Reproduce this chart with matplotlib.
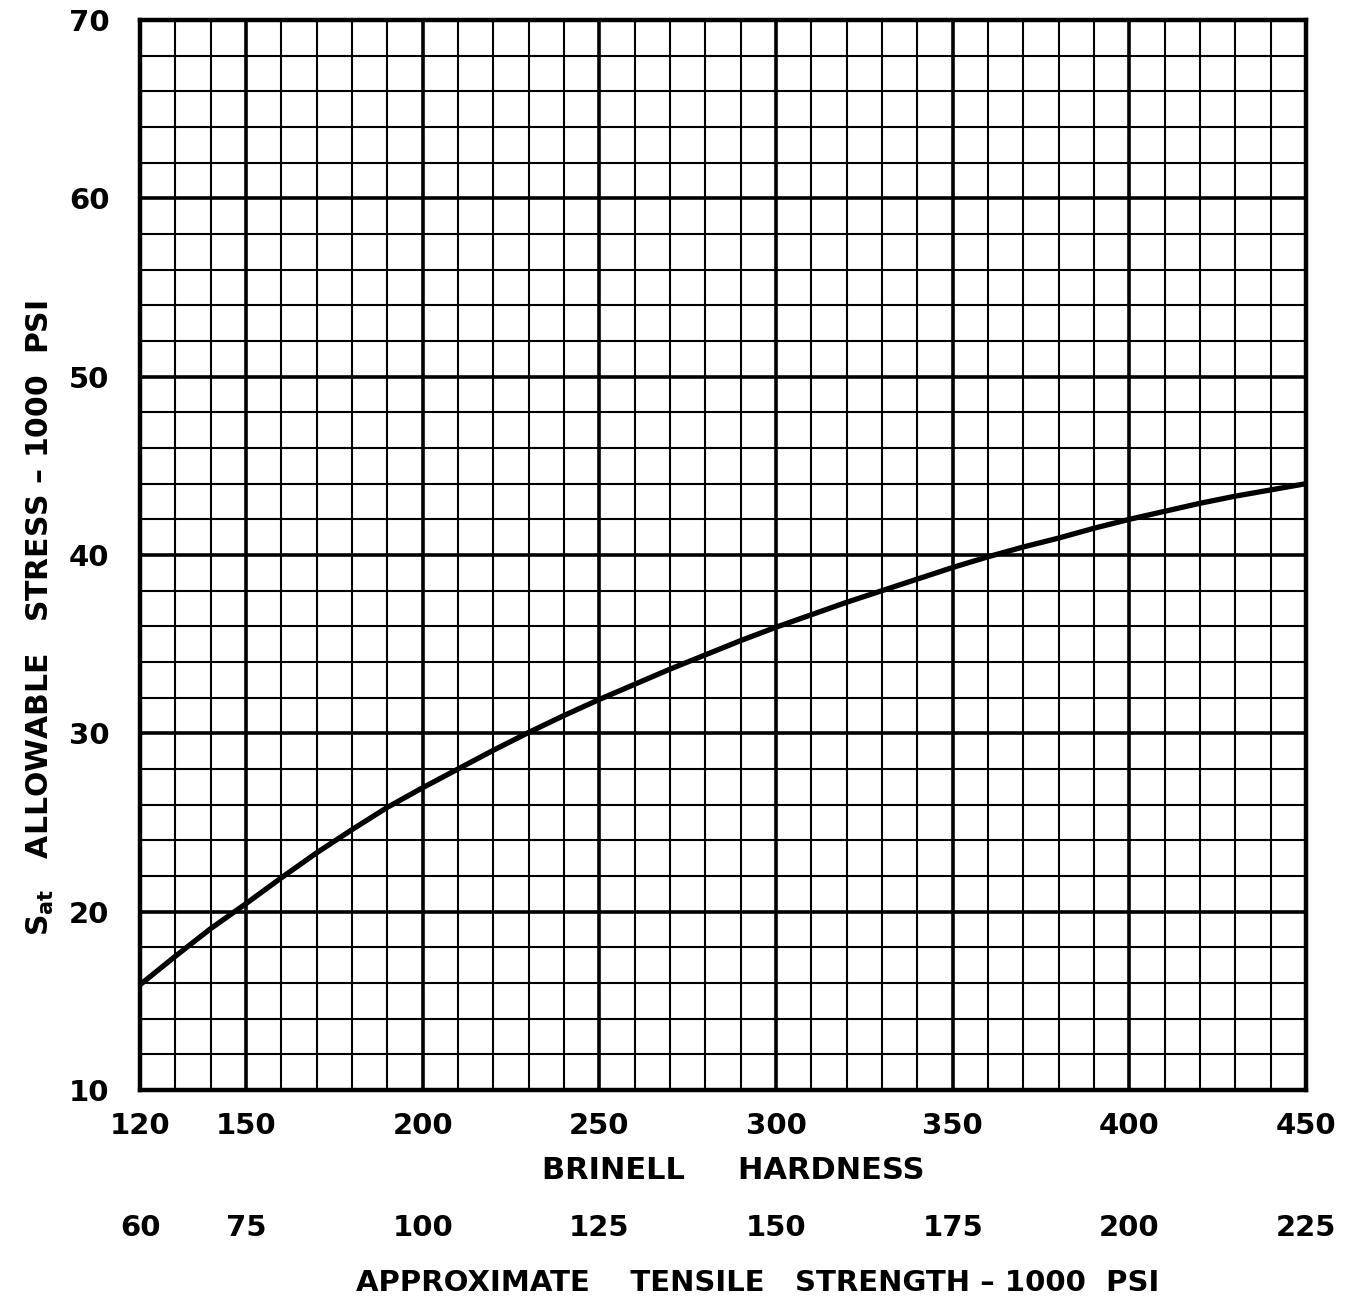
import matplotlib
matplotlib.use("Agg")
import matplotlib.pyplot as plt
from matplotlib.ticker import MultipleLocator, FixedLocator

# ---- data ----
brinell = [120, 130, 140, 150, 160, 170, 180, 190, 200, 210, 220, 230, 240, 250,
           260, 270, 280, 290, 300, 310, 320, 330, 340, 350, 360, 370, 380, 390,
           400, 410, 420, 430, 440, 450]
sat = [15.9, 17.5, 19.05, 20.45, 21.9, 23.3, 24.6, 25.85, 26.95, 28.0, 29.05, 30.05,
       31.0, 31.9, 32.75, 33.6, 34.4, 35.2, 35.95, 36.65, 37.35, 38.0, 38.65,
       39.3, 39.9, 40.45, 40.95, 41.5, 42.0, 42.45, 42.9, 43.3, 43.65, 44.0]

brinell_ticks = [120, 150, 200, 250, 300, 350, 400, 450]
tensile_ticks = [60, 75, 100, 125, 150, 175, 200, 225]
y_ticks = [10, 20, 30, 40, 50, 60, 70]

FONT = 'DejaVu Sans'
plt.rcParams['font.family'] = [FONT]
plt.rcParams['mathtext.fontset'] = 'custom'
plt.rcParams['mathtext.rm'] = FONT + ':bold'

fig = plt.figure(figsize=(13.57, 13.0), dpi=100)
ax = fig.add_axes([140/1357, 1 - 1090/1300, 1166/1357, 1070/1300])

ax.set_xlim(120, 450)
ax.set_ylim(10, 70)

ax.xaxis.set_major_locator(FixedLocator(brinell_ticks))
ax.xaxis.set_minor_locator(MultipleLocator(10))
ax.yaxis.set_major_locator(FixedLocator(y_ticks))
ax.yaxis.set_minor_locator(MultipleLocator(2))

ax.grid(which='minor', color='black', linewidth=1.5)
for xv in range(150, 451, 50):
    ax.axvline(xv, color='black', linewidth=2.6, zorder=1.5)
ax.grid(which='major', axis='y', color='black', linewidth=2.6)
ax.set_axisbelow(True)

for s in ax.spines.values():
    s.set_linewidth(3.2)

ax.plot(brinell, sat, color='black', linewidth=3.8, solid_capstyle='butt',
        solid_joinstyle='round', zorder=3)

FS = 21
FT = 22
ax.tick_params(which='both', length=0)
ax.tick_params(axis='x', pad=16, labelsize=FS)
ax.tick_params(axis='y', pad=22, labelsize=FS)
ax.set_xticklabels([str(v) for v in brinell_ticks], fontweight='bold')
ax.set_yticklabels([str(v) for v in y_ticks], fontweight='bold')

# secondary (tensile strength) scale
sec = ax.secondary_xaxis(-0.1, functions=(lambda x: x / 2.0, lambda t: t * 2.0))
sec.set_xticks(tensile_ticks)
sec.set_xticklabels([str(v) for v in tensile_ticks], fontweight='bold', fontsize=FS)
sec.tick_params(length=0, pad=12)
sec.spines['bottom'].set_visible(False)

ax.text(0.5086, -0.0748, "BRINELL     HARDNESS", transform=ax.transAxes,
        ha='center', va='center', fontsize=FT, fontweight='bold')
ax.text(0.530, -0.180, "APPROXIMATE    TENSILE   STRENGTH – 1000  PSI",
        transform=ax.transAxes, ha='center', va='center', fontsize=FT - 1, fontweight='bold')
ax.text(-0.0858, 0.441, r"S$_{\rm at}$   ALLOWABLE   STRESS – 1000  PSI",
        transform=ax.transAxes, ha='center', va='center', rotation=90,
        fontsize=FT - 0.5, fontweight='bold')

fig.savefig("out.png", dpi=100, facecolor='white')
